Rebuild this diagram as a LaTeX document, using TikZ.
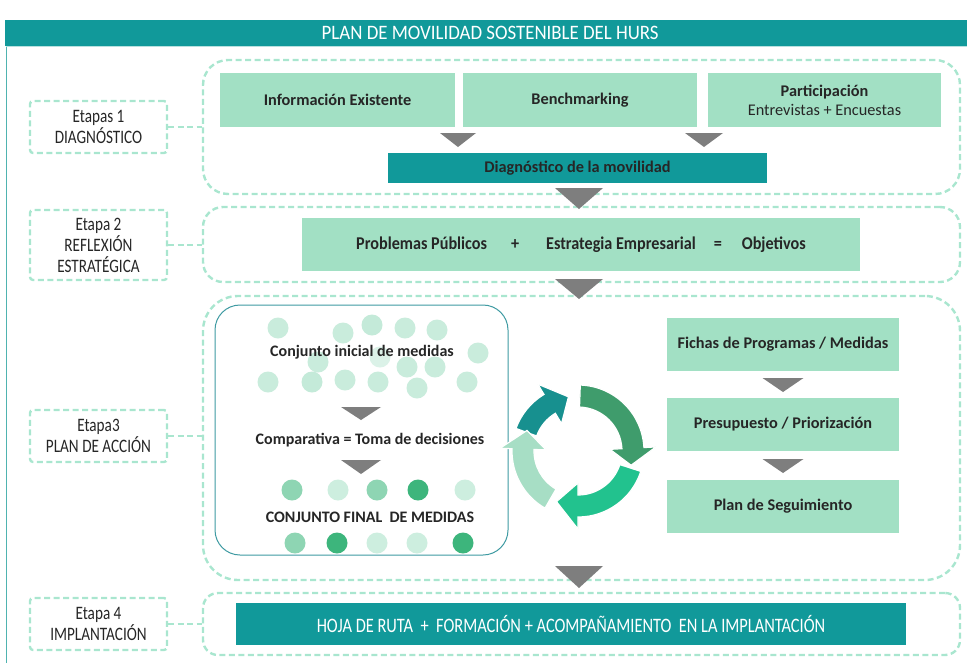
\documentclass[tikz,border=0pt]{standalone}
\usepackage{fontspec}
\setmainfont{Carlito}
\newfontfamily\condf[FakeStretch=0.80]{Carlito}
\newfontfamily\headf[FakeStretch=0.92]{Carlito}
\newfontfamily\probf[FakeStretch=0.90]{Carlito}
\definecolor{tealA}{HTML}{11999A}
\definecolor{mintA}{HTML}{A2E0C4}
\definecolor{dashc}{HTML}{A9E6CF}
\definecolor{triG}{HTML}{7E7E7E}
\definecolor{txtD}{HTML}{262626}
\definecolor{frameT}{HTML}{4FB3B0}
\definecolor{inbord}{HTML}{3E9AA2}
\definecolor{dotL}{HTML}{C4EAD9}
\definecolor{dotM}{HTML}{8ED5B3}
\definecolor{dotD}{HTML}{3DB57C}
\definecolor{dotP}{HTML}{CDEEDF}
\definecolor{arDark}{HTML}{3F9C6C}
\definecolor{arBright}{HTML}{22C28E}
\definecolor{arLight}{HTML}{A7DEC5}
\definecolor{arTeal}{HTML}{17908F}
\newcommand\downtri[4]{\fill[triG] (#1-#3/2,#2) -- (#1+#3/2,#2) -- (#1,#2+#4) -- cycle;}
\newcommand\cycarrow[4]{\filldraw[fill=#1, draw=white, line width=1.2pt, line join=miter]
  (#2:66pt) arc[start angle=#2, end angle=#3, radius=66pt] -- (#3:78pt) -- (#4:55pt)
  -- (#3:32pt) -- (#3:44pt) arc[start angle=#3, end angle=#2, radius=44pt] -- cycle;}
\begin{document}
\begin{tikzpicture}[x=1pt,y=-1pt,
  stage/.style={draw=dashc, line width=2.4pt, dash pattern=on 6pt off 3.5pt, rounded corners=#1, inner sep=0pt},
  etapa/.style={draw=dashc, line width=2.4pt, dash pattern=on 6pt off 3.5pt, rounded corners=3pt,
     minimum width=137pt, inner sep=0pt, align=center, font=\condf\fontsize{19}{21}\selectfont, text=txtD},
  link/.style={draw=dashc, line width=2.4pt, dash pattern=on 6pt off 3.5pt},
  mint/.style={fill=mintA, inner sep=0pt, align=center, text=txtD, font=\bfseries\fontsize{16.3}{19}\selectfont},
  tealbox/.style={fill=tealA, inner sep=0pt, align=center, text=white},
  lbl/.style={inner sep=0pt, text=txtD, font=\bfseries\fontsize{16}{18}\selectfont}
]
\useasboundingbox (0,0) rectangle (967,662);
% frame and header
\draw[frameT, line width=0.8pt] (6,46) -- (6,670);
\draw[frameT!40, line width=0.8pt] (6,46) -- (975,46);
\node[tealbox, minimum width=970pt, minimum height=26pt, anchor=north west,
  font=\headf\fontsize{20.5}{22}\selectfont] (head) at (5,20) {PLAN DE MOVILIDAD SOSTENIBLE DEL HURS};
% stage containers
\node[stage=25pt, minimum width=757pt, minimum height=134pt] (s1) at (581.5,127) {};
\node[stage=20pt, minimum width=757pt, minimum height=75pt] (s2) at (581.5,244.5) {};
\node[stage=35pt, minimum width=757pt, minimum height=284pt] (s3) at (581.5,438) {};
\node[stage=15pt, minimum width=757pt, minimum height=62pt] (s4) at (581.5,624) {};
% etapa labels
\node[etapa, minimum height=52pt] (e1) at (98.5,127) {Etapas 1\\DIAGNÓSTICO};
\node[etapa, minimum height=70pt] (e2) at (98.5,245) {Etapa 2\\REFLEXIÓN\\ESTRATÉGICA};
\node[etapa, minimum height=52pt] (e3) at (98.5,436) {Etapa3\\PLAN DE ACCIÓN};
\node[etapa, minimum height=52pt] (e4) at (98.5,624) {Etapa 4\\IMPLANTACIÓN};
\draw[link] (e1.east) -- (e1.east -| s1.west);
\draw[link] (e2.east) -- (e2.east -| s2.west);
\draw[link] (e3.east) -- (e3.east -| s3.west);
\draw[link] (e4.east) -- (e4.east -| s4.west);
% stage 1
\node[mint, minimum width=235pt, minimum height=54pt] (info) at (337.5,100) {Información Existente};
\node[mint, minimum width=234pt, minimum height=54pt] (bench) at (580,100) {Benchmarking};
\node[mint, minimum width=233pt, minimum height=54pt] (part) at (824.5,100) {Participación\\{\mdseries Entrevistas + Encuestas}};
\node[tealbox, minimum width=379pt, minimum height=30pt, font=\bfseries\fontsize{16.3}{18}\selectfont, text=txtD] (diag) at (577.5,168) {Diagnóstico de la movilidad};
\downtri{458}{133}{36}{14}
\downtri{704}{133}{38}{14}
% stage 2
\node[mint, minimum width=558pt, minimum height=53pt, font=\probf\bfseries\fontsize{18}{20}\selectfont] (prob) at (581,244.5)
  {Problemas Públicos\hspace{24pt}+\hspace{27pt}Estrategia Empresarial\hspace{18pt}=\hspace{20pt}Objetivos};
% stage 3 left panel
\node[draw=inbord, line width=1pt, rounded corners=25pt, minimum width=293pt, minimum height=250pt, fill=white] (panel) at (361.5,430) {};
\foreach \x/\y/\o in {278/328/0.9, 343/333/0.9, 372/325/1, 405/328/0.9, 437/330/0.9, 380/357/0.6, 318/362/0.9,
  407/367/0.9, 435/367/0.9, 478/353/0.9, 268/382/0.9, 312/382/1, 345/380/0.9, 378/382/0.9, 417/388/0.9, 467/382/0.9}
  \fill[dotL, opacity=\o] (\x,\y) circle[radius=10.5pt];
\foreach \x/\y/\c in {292/490/dotM, 338/490/dotP, 377/490/dotM, 418/490/dotD, 465/490/dotP,
  295/543/dotM, 337/543/dotD, 377/543/dotP, 417/543/dotP, 463/543/dotD}
  \fill[\c] (\x,\y) circle[radius=10.5pt];
\node[lbl] (ini) at (362,352) {Conjunto inicial de medidas};
\node[lbl] (comp) at (370,440) {Comparativa = Toma de decisiones};
\node[lbl] (fin) at (370,517) {CONJUNTO FINAL\ \ DE MEDIDAS};
\downtri{361}{407}{40}{13}
\downtri{361}{460}{40}{14}
% cycle
\begin{scope}[shift={(578,451)}]
\cycarrow{arTeal}{160}{121}{100}
\cycarrow{arLight}{240}{178}{158}
\cycarrow{arBright}{-18}{-90}{-113}
\cycarrow{arDark}{88}{3}{-15}
\end{scope}
% stage 3 right column
\node[mint, minimum width=232pt, minimum height=53pt] (fichas) at (783,344.5) {Fichas de Programas / Medidas};
\node[mint, minimum width=232pt, minimum height=53pt] (presu) at (783,424.5) {Presupuesto / Priorización};
\node[mint, minimum width=232pt, minimum height=53pt] (segui) at (783,506.5) {Plan de Seguimiento};
\downtri{783}{378}{41}{14}
\downtri{783}{459}{41}{14}
% stage 4
\node[tealbox, minimum width=670pt, minimum height=42pt, font=\condf\fontsize{20.5}{22}\selectfont] (hoja) at (571,624)
  {HOJA DE RUTA\ \ +\ \ FORMACIÓN + ACOMPAÑAMIENTO\ \ EN LA IMPLANTACIÓN};
% arrows between stages
\downtri{579}{188}{48}{21}
\downtri{579}{279}{48}{20}
\downtri{579}{566}{48}{22}
\end{tikzpicture}
\end{document}
